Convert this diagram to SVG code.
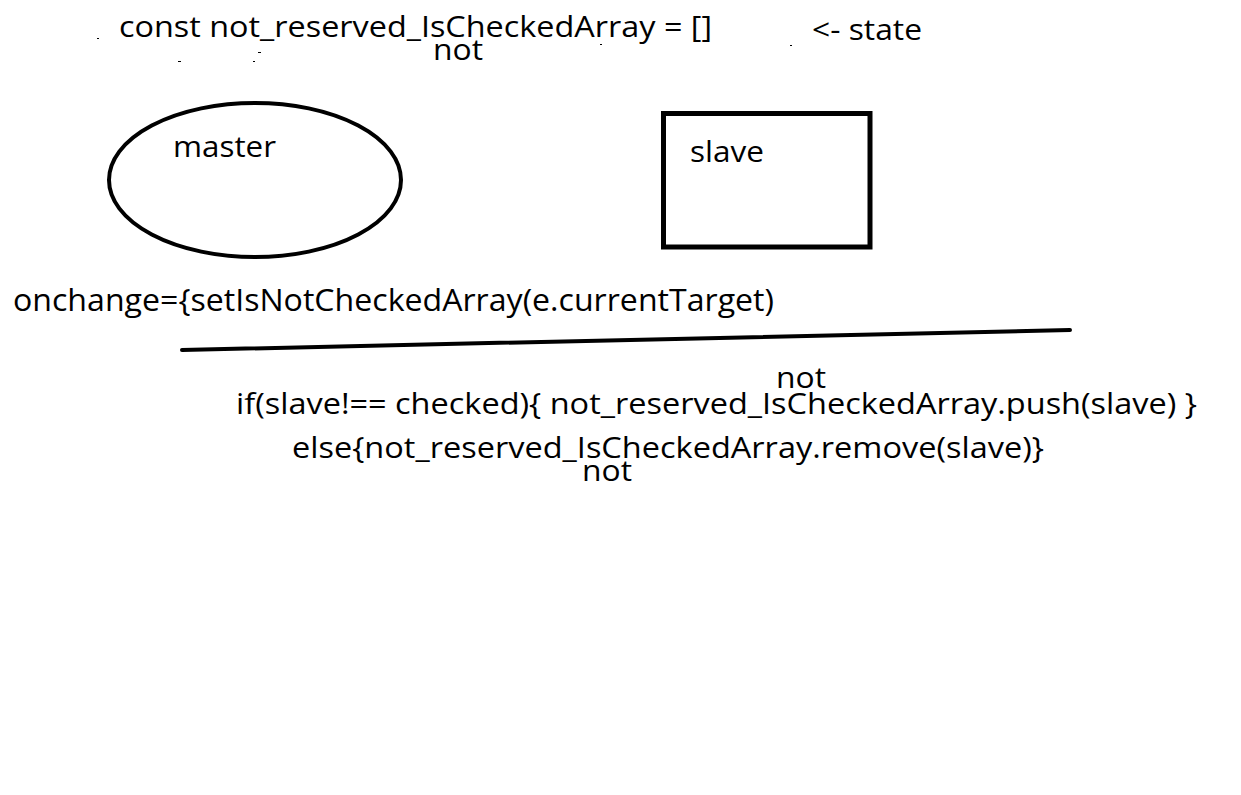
<svg xmlns="http://www.w3.org/2000/svg" width="1241" height="795" viewBox="0 0 1241 795">
<style>
.t{font-family:"Open Sans","Noto Sans","Liberation Sans",sans-serif;fill:#000;}
.c{font-family:"Open Sans","Noto Sans","Liberation Sans",sans-serif;fill:#000;}
.shape{fill:none;stroke:#000;}
</style>
<rect width="1241" height="795" fill="#fff"/>
<g id="state-decl">
<text class="t" x="119" y="37" font-size="30" textLength="593" lengthAdjust="spacingAndGlyphs">const not_reserved_IsCheckedArray = []</text>
<text class="t" x="433" y="60" font-size="30" textLength="50" lengthAdjust="spacingAndGlyphs">not</text>
<text class="t" x="812" y="40" font-size="30" textLength="110" lengthAdjust="spacingAndGlyphs">&lt;- state</text>
</g>
<g id="specks" fill="#000">
<rect x="97" y="38" width="2" height="1"/>
<rect x="178" y="61" width="3" height="1"/>
<rect x="258" y="52" width="3" height="1"/>
<rect x="253" y="61" width="2" height="1"/>
<rect x="600" y="44" width="2" height="1"/>
<rect x="790" y="45" width="2" height="1"/>
</g>
<g id="master">
<ellipse class="shape" cx="255" cy="180" rx="146" ry="77" stroke-width="4"/>
<text class="t" x="173" y="157" font-size="30" textLength="103" lengthAdjust="spacingAndGlyphs">master</text>
</g>
<g id="slave">
<rect class="shape" x="663.5" y="113.5" width="206.5" height="133.5" stroke-width="5"/>
<text class="t" x="690" y="162" font-size="30" textLength="74" lengthAdjust="spacingAndGlyphs">slave</text>
</g>
<g id="onchange">
<text class="t" x="13" y="311" font-size="31" textLength="761" lengthAdjust="spacingAndGlyphs">onchange={setIsNotCheckedArray(e.currentTarget)</text>
</g>
<g id="connectors">
<line x1="182" y1="350" x2="1070" y2="330" stroke="#000" stroke-width="4" stroke-linecap="round"/>
</g>
<g id="logic">
<text class="c" x="776" y="388" font-size="29" textLength="50" lengthAdjust="spacingAndGlyphs">not</text>
<text class="c" x="236" y="414" font-size="30" textLength="961" lengthAdjust="spacingAndGlyphs">if(slave!== checked){  not_reserved_IsCheckedArray.push(slave) }</text>
<text class="c" x="292" y="458" font-size="30" textLength="752" lengthAdjust="spacingAndGlyphs">else{not_reserved_IsCheckedArray.remove(slave)}</text>
<text class="c" x="582" y="481" font-size="29" textLength="50" lengthAdjust="spacingAndGlyphs">not</text>
</g>
</svg>
